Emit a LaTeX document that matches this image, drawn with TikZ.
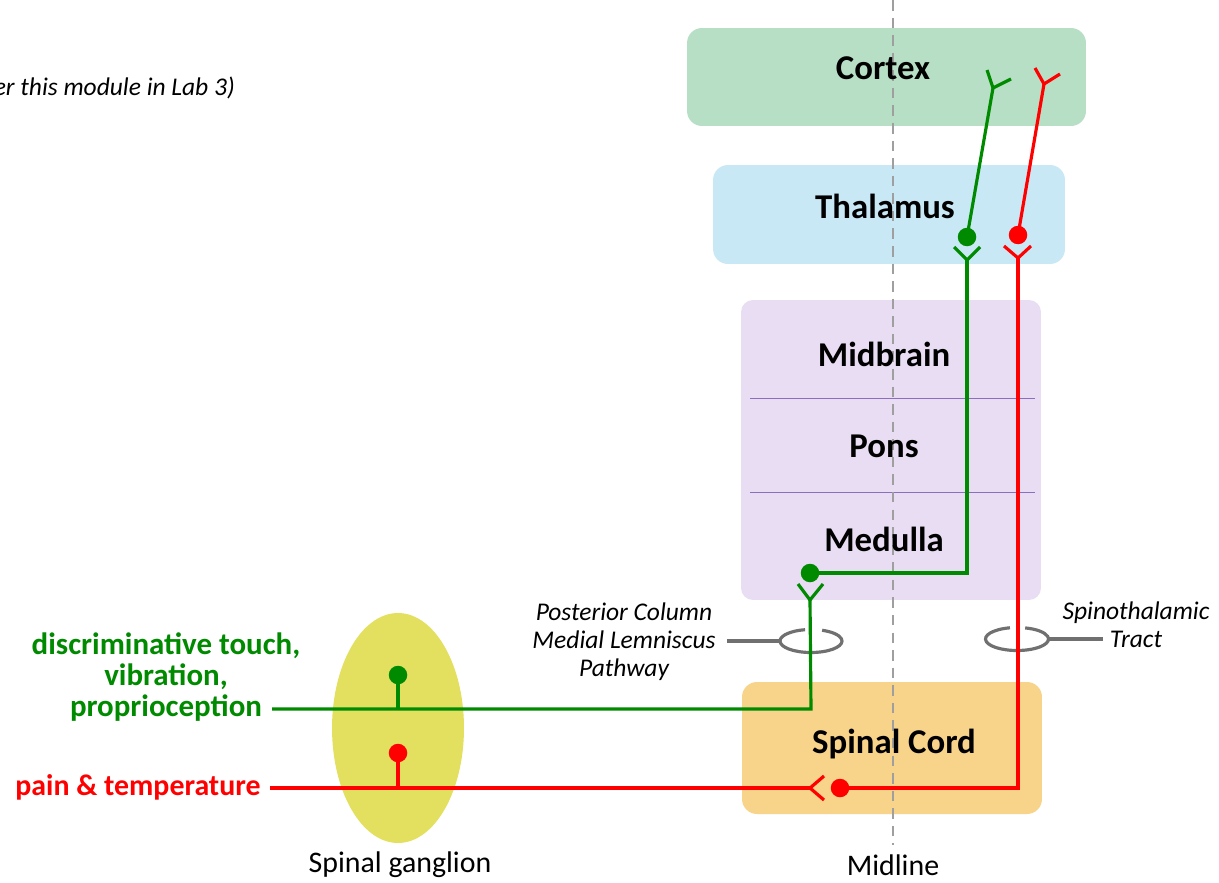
\documentclass[tikz,border=0pt]{standalone}
\usepackage{fontspec}
\setmainfont{Carlito}
\usetikzlibrary{shapes.geometric}
\definecolor{tgreen}{RGB}{0,138,0}
\definecolor{tred}{RGB}{255,0,0}
\definecolor{cortexc}{RGB}{183,223,197}
\definecolor{thalc}{RGB}{201,232,245}
\definecolor{stemc}{RGB}{232,221,242}
\definecolor{cordc}{RGB}{248,211,138}
\definecolor{gangc}{RGB}{227,224,96}
\definecolor{ringc}{RGB}{112,112,112}
\definecolor{divc}{RGB}{140,110,190}
\begin{document}
\begin{tikzpicture}[x=0.02cm,y=-0.02cm,
  region/.style={draw=none,rounded corners=0.3cm,inner sep=0pt},
  blabel/.style={font=\fontsize{19.8}{19.8}\selectfont\bfseries,text=black},
  ilabel/.style={font=\fontsize{14.5}{15.9}\selectfont\itshape,align=center},
  plabel/.style={font=\fontsize{17}{17}\selectfont},
  inlabel/.style={font=\fontsize{17.6}{17.6}\selectfont\bfseries,align=center},
  gline/.style={draw=tgreen,line width=1.8pt},
  rline/.style={draw=tred,line width=1.8pt},
  ringline/.style={draw=ringc,line width=1.8pt},
  gdot/.style={circle,fill=tgreen,inner sep=0pt,minimum size=0.37cm},
  rdot/.style={circle,fill=tred,inner sep=0pt,minimum size=0.37cm}]
\useasboundingbox (0,0) rectangle (1219,882);
\fill[white] (0,0) rectangle (1219,882);
% regions
\node[region,fill=cortexc,minimum width=7.98cm,minimum height=1.96cm] (cortex) at (886.5,77) {};
\node[region,fill=thalc,minimum width=7.04cm,minimum height=1.98cm] (thal) at (889,214.5) {};
\node[region,fill=stemc,minimum width=6cm,minimum height=6cm,rounded corners=0.24cm] (stem) at (891,450) {};
\node[region,fill=cordc,minimum width=6cm,minimum height=2.64cm] (cord) at (892,748) {};
\node[ellipse,fill=gangc,minimum width=2.64cm,minimum height=4.6cm,inner sep=0pt] (gang) at (398,728) {};
\draw[divc,line width=0.5pt] (750,398) -- (1035,398);
\draw[divc,line width=0.5pt] (750,492) -- (1035,492);
% midline
\coordinate (mtop) at (893,0);
\coordinate (mbot) at (893,845);
\draw[gray!75,line width=1pt,dash pattern=on 6pt off 4pt] (mtop) -- (mbot);
% region labels
\node[blabel] at (883,68) {Cortex};
\node[blabel] at (885,206) {Thalamus};
\node[blabel] at (884,354) {Midbrain};
\node[blabel] at (884,446) {Pons};
\node[blabel] at (884,539) {Medulla};
\node[blabel] at (894,744) {Spinal Cord};
\node[plabel] (ganglbl) at (400,865) {Spinal ganglion};
\node[plabel] (midlbl) at (893,865) {Midline};
\node[ilabel,anchor=east] (note) at (241,88) {er this module in Lab 3)};
% rings
\coordinate (ring1) at (811,641);
\coordinate (ring2) at (1017,639);
\draw[ringline] ([shift={(101:0.62cm and 0.23cm)}]ring1) arc[start angle=101,end angle=429,x radius=0.62cm,y radius=0.23cm];
\draw[ringline] ([shift={(103:0.63cm and 0.23cm)}]ring2) arc[start angle=103,end angle=435,x radius=0.63cm,y radius=0.23cm];
\coordinate (ring1w) at (780,641);
\coordinate (ring2e) at (1048,639);
\node[ilabel] (pcml) at (624,642) {Posterior Column\\Medial Lemniscus\\Pathway};
\node[ilabel] (stt) at (1136,625) {Spinothalamic\\Tract};
\coordinate (pcmlend) at (727,641);
\coordinate (sttend) at (1103,639);
\draw[ringline] (ring1w) -- (pcmlend);
\draw[ringline] (ring2e) -- (sttend);
% input labels
\node[inlabel,text=tgreen] (dct) at (166,677) {discriminative touch,\\vibration,\\proprioception};
\node[inlabel,font=\fontsize{17}{17}\selectfont\bfseries,text=tred,anchor=east,inner sep=0pt] (pt) at (261,787) {pain \& temperature};
% green pathway
\coordinate (gin) at (272,709);
\coordinate (gj) at (398,709);
\node[gdot] (gg) at (398,675) {};
\coordinate (gc) at (811,709);
\coordinate (gmv) at (810,600);
\coordinate (gmb1) at (798,584);
\coordinate (gmb2) at (823,584);
\node[gdot] (gmd) at (810,573) {};
\coordinate (gmc) at (967,573);
\coordinate (gtv) at (967,260);
\coordinate (gtb1) at (954,247);
\coordinate (gtb2) at (980,247);
\node[gdot] (gtd) at (967,237) {};
\coordinate (gcv) at (993,88);
\coordinate (gcb1) at (987,70);
\coordinate (gcb2) at (1011,79);
\draw[gline] (gj) -- (gg.center);
\draw[gline] (gin) -- (gc) -- (gmv);
\draw[gline] (gmb1) -- (gmv) -- (gmb2);
\draw[gline] (gmd.center) -- (gmc) -- (gtv);
\draw[gline] (gtb1) -- (gtv) -- (gtb2);
\draw[gline] (gtd.center) -- (gcv);
\draw[gline] (gcb1) -- (gcv) -- (gcb2);
% red pathway
\coordinate (rin) at (270,788);
\coordinate (rj) at (398,788);
\node[rdot] (rg) at (398,753) {};
\coordinate (rsv) at (810,788);
\coordinate (rsb1) at (824,776);
\coordinate (rsb2) at (824,800);
\node[rdot] (rsd) at (840,788) {};
\coordinate (rsc) at (1018,788);
\coordinate (rtv) at (1018,258);
\coordinate (rtb1) at (1004,246);
\coordinate (rtb2) at (1031,246);
\node[rdot] (rtd) at (1018,235) {};
\coordinate (rcv) at (1044,84);
\coordinate (rcb1) at (1035,68);
\coordinate (rcb2) at (1060,74);
\draw[rline] (rj) -- (rg.center);
\draw[rline] (rin) -- (rsv);
\draw[rline] (rsb1) -- (rsv) -- (rsb2);
\draw[rline] (rsd.center) -- (rsc) -- (rtv);
\draw[rline] (rtb1) -- (rtv) -- (rtb2);
\draw[rline] (rtd.center) -- (rcv);
\draw[rline] (rcb1) -- (rcv) -- (rcb2);
\end{tikzpicture}
\end{document}
